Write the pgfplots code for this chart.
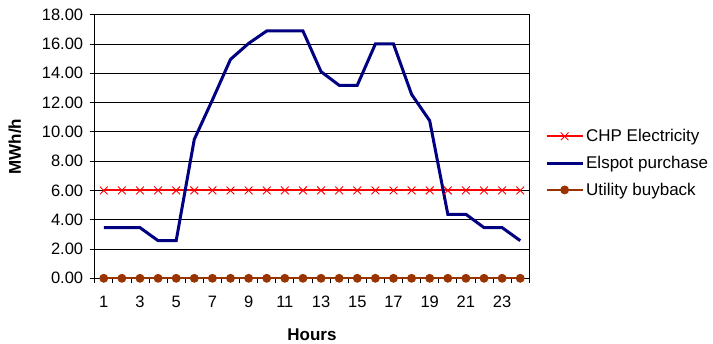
\documentclass[border=0pt]{standalone}
\usepackage{fontspec}
\setmainfont{Liberation Sans}
\usepackage{pgfplots}
\pgfplotsset{compat=1.18}
\definecolor{navyline}{RGB}{0,0,128}
\definecolor{brownline}{RGB}{153,51,0}
\begin{document}
\begin{tikzpicture}
\useasboundingbox (0,0) rectangle (713pt,344pt);
\begin{axis}[
  at={(94.7pt,65.7pt)}, anchor=south west,
  scale only axis, width=434.6pt, height=263.6pt,
  xmin=0.5, xmax=24.5, ymin=0, ymax=18,
  clip=false,
  /pgf/number format/assume math mode=true,
  xtick={0.5,1.5,2.5,3.5,4.5,5.5,6.5,7.5,8.5,9.5,10.5,11.5,12.5,13.5,14.5,15.5,16.5,17.5,18.5,19.5,20.5,21.5,22.5,23.5,24.5},
  xticklabels={},
  extra x ticks={1,3,5,7,9,11,13,15,17,19,21,23},
  extra x tick labels={1,3,5,7,9,11,13,15,17,19,21,23},
  extra x tick style={major tick length=0pt, grid=none, xticklabel style={yshift=-14pt}},
  ytick={0,2,4,6,8,10,12,14,16,18},
  yticklabel style={/pgf/number format/fixed, /pgf/number format/fixed zerofill, /pgf/number format/precision=2, xshift=-3pt},
  tick label style={font=\fontsize{16.5}{19}\selectfont, text=black},
  tick align=outside, major tick length=5pt, tick pos=left,
  tick style={black, line width=0.8pt},
  ymajorgrids, grid style={black, line width=0.8pt},
  axis line style={black, line width=0.9pt},
  xlabel={Hours}, ylabel={MWh/h},
  xlabel style={at={(axis description cs:0.5,-0.213)}, anchor=center, font=\fontsize{17}{20}\selectfont\bfseries},
  ylabel style={at={(axis description cs:-0.1834,0.5)}, anchor=center, font=\fontsize{17}{20}\selectfont\bfseries},
  legend style={at={(1.036,0.437)}, anchor=west, draw=none, fill=none, font=\fontsize{17}{20}\selectfont, row sep=9pt, inner sep=0pt, cells={anchor=west}},
  legend image code/.code={\draw[mark repeat=2,mark phase=2,#1] plot coordinates {(0pt,0pt) (18pt,0pt) (36pt,0pt)};},
]
\addplot[red, line width=2pt, mark=x, mark size=5.5pt, mark options={line width=0.9pt}] coordinates {
(1,6)(2,6)(3,6)(4,6)(5,6)(6,6)(7,6)(8,6)(9,6)(10,6)(11,6)(12,6)(13,6)(14,6)(15,6)(16,6)(17,6)(18,6)(19,6)(20,6)(21,6)(22,6)(23,6)(24,6)};
\addlegendentry{CHP Electricity}
\addplot[navyline, line width=3pt, no marks] coordinates {
(1,3.46)(2,3.46)(3,3.46)(4,2.57)(5,2.57)(6,9.49)(7,12.18)(8,14.95)(9,16.04)(10,16.89)(11,16.89)(12,16.89)(13,14.11)(14,13.18)(15,13.18)(16,16.0)(17,16.0)(18,12.56)(19,10.76)(20,4.37)(21,4.37)(22,3.46)(23,3.46)(24,2.57)};
\addlegendentry{Elspot purchase}
\addplot[brownline, line width=1.8pt, mark=*, mark size=3.5pt, mark options={fill=brownline, draw=brownline}] coordinates {
(1,0)(2,0)(3,0)(4,0)(5,0)(6,0)(7,0)(8,0)(9,0)(10,0)(11,0)(12,0)(13,0)(14,0)(15,0)(16,0)(17,0)(18,0)(19,0)(20,0)(21,0)(22,0)(23,0)(24,0)};
\addlegendentry{Utility buyback}
\end{axis}
\end{tikzpicture}
\end{document}
